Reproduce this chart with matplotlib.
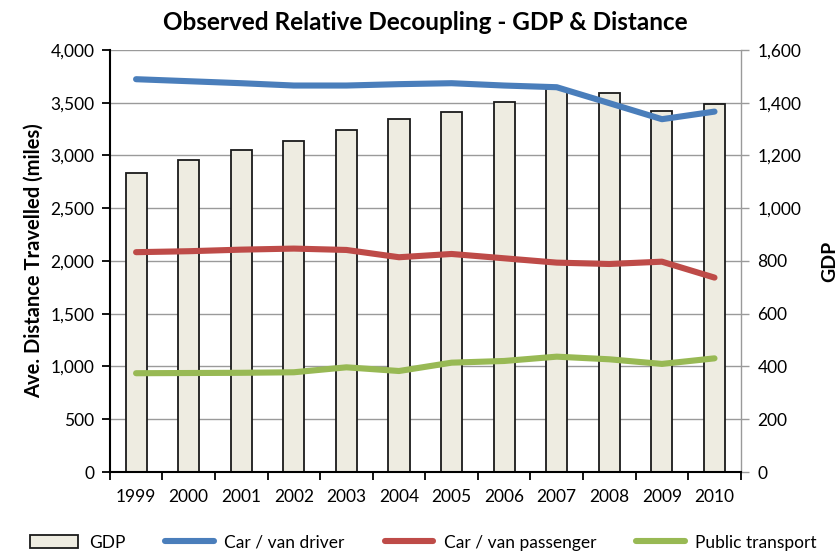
import matplotlib.pyplot as plt
import numpy as np

plt.rcParams['font.family'] = ['Lato', 'DejaVu Sans']

years = ['1999', '2000', '2001', '2002', '2003', '2004',
         '2005', '2006', '2007', '2008', '2009', '2010']
gdp = [1135, 1184, 1222, 1255, 1298, 1337, 1366, 1402, 1451, 1436, 1370, 1394]
car_driver = [3722, 3703, 3684, 3662, 3662, 3675, 3684, 3662, 3646, 3495, 3343, 3415]
car_passenger = [2083, 2092, 2107, 2117, 2104, 2035, 2066, 2025, 1984, 1971, 1993, 1842]
public_transport = [936, 938, 940, 945, 992, 957, 1036, 1052, 1093, 1068, 1024, 1077]

x = np.arange(len(years))

fig = plt.figure(figsize=(8.38, 5.54), dpi=100)
ax = fig.add_axes([0.131, 0.148, 0.753, 0.762])
ax2 = ax.twinx()
ax.set_zorder(ax2.get_zorder() + 1)
ax.patch.set_visible(False)

# bars on the right axis, behind the lines
ax2.bar(x, gdp, width=0.4, color='#EEECE1', edgecolor='#1a1a1a', linewidth=1.3,
        label='GDP', zorder=2)
ax2.set_ylim(0, 1600)
ax2.set_yticks(np.arange(0, 1601, 200))
ax2.set_yticklabels(['{:,}'.format(v) for v in range(0, 1601, 200)])
ax2.grid(axis='y', color='#9a9a9a', linewidth=1.0, zorder=0)
ax2.set_axisbelow(True)
ax2.set_ylabel('GDP', fontsize=14, fontweight='bold', labelpad=14)

lw = 4.4
ax.plot(x, car_driver, color='#4A7EBB', lw=lw, solid_capstyle='round', label='Car / van driver')
ax.plot(x, car_passenger, color='#BE4B48', lw=lw, solid_capstyle='round', label='Car / van passenger')
ax.plot(x, public_transport, color='#98B954', lw=lw, solid_capstyle='round', label='Public transport')

ax.set_ylim(0, 4000)
ax.set_yticks(np.arange(0, 4001, 500))
ax.set_yticklabels(['{:,}'.format(v) for v in range(0, 4001, 500)])
ax.set_xlim(-0.5, len(years) - 0.5)
ax.set_xticks(x)
ax.set_xticklabels(years)
ax.set_xticks(np.arange(-0.5, len(years), 1), minor=True)
ax.tick_params(axis='x', which='major', length=0, pad=12, labelsize=12.5)
ax.tick_params(axis='x', which='minor', length=6, width=1.3, color='black')
ax.tick_params(axis='y', length=6, width=1.3, labelsize=12.5, pad=5)
ax2.tick_params(axis='y', length=6, width=1.0, color='#9a9a9a', labelsize=12.5, pad=6)
ax.set_ylabel('Ave. Distance Travelled (miles)', fontsize=14.5, fontweight='bold', labelpad=5)

for s in ['top', 'right']:
    ax.spines[s].set_visible(False)
for s in ['top', 'left', 'bottom']:
    ax2.spines[s].set_visible(False)
ax.spines['left'].set_linewidth(1.5)
ax.spines['bottom'].set_linewidth(1.5)
ax2.spines['right'].set_color('#9a9a9a')
ax2.spines['right'].set_linewidth(1.0)

ax.set_title('Observed Relative Decoupling - GDP & Distance', fontsize=17.5,
             fontweight='bold', pad=14)

h2, l2 = ax2.get_legend_handles_labels()
h1, l1 = ax.get_legend_handles_labels()
fig.legend(h2 + h1, l2 + l1, loc='lower center', bbox_to_anchor=(0.505, -0.022),
           ncol=4, frameon=False, fontsize=12.5, handlelength=2.8,
           columnspacing=2.3, handletextpad=0.6)

fig.savefig('out.png', dpi=100)
